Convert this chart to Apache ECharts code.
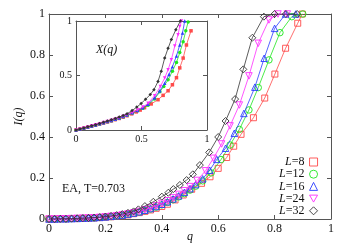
<!DOCTYPE html>
<html><head><meta charset="utf-8">
<script src="https://cdn.jsdelivr.net/npm/echarts@6/dist/echarts.min.js"></script>
<style>html,body{margin:0;padding:0;background:#fff}#c{width:353px;height:247px}</style>
</head><body><div id="c"></div>
<script>
// ---- main panel: I(q) ----
const seriesNames = ['L=8', 'L=12', 'L=16', 'L=24', 'L=32'];
const xTicks = [0, 0.2, 0.4, 0.6, 0.8, 1];
const yTicks = [0, 0.2, 0.4, 0.6, 0.8, 1];
const insetTicks = [0, 0.5, 1];

const q8 = [0,0.02,0.04,0.06,0.08,0.10,0.12,0.14,0.16,0.18,0.20,0.22,0.24,0.26,0.28,0.30,0.32,0.34,0.36,0.38,0.40,0.42,0.447,0.476,0.506,0.541,0.571,0.60,0.63,0.655,0.681,0.725,0.765,0.801,0.839,0.882,0.898];
const I8 = [0,0,0.001,0.001,0.002,0.002,0.003,0.004,0.005,0.007,0.009,0.011,0.013,0.016,0.020,0.026,0.031,0.037,0.044,0.052,0.061,0.072,0.093,0.117,0.145,0.174,0.206,0.247,0.300,0.355,0.413,0.494,0.590,0.707,0.833,0.955,1.0];

const q12 = [0,0.02,0.04,0.06,0.08,0.10,0.12,0.14,0.16,0.18,0.20,0.22,0.24,0.26,0.28,0.30,0.32,0.34,0.36,0.38,0.40,0.42,0.44,0.46,0.48,0.50,0.52,0.545,0.575,0.61,0.642,0.675,0.709,0.742,0.780,0.819,0.861,0.90];
const I12 = [0,0,0.001,0.001,0.002,0.003,0.004,0.005,0.006,0.008,0.010,0.012,0.015,0.018,0.023,0.028,0.034,0.041,0.049,0.058,0.069,0.081,0.094,0.108,0.124,0.141,0.160,0.186,0.225,0.290,0.361,0.437,0.532,0.641,0.776,0.909,0.987,1.0];

const q16 = [0,0.02,0.04,0.06,0.08,0.10,0.12,0.14,0.16,0.18,0.20,0.22,0.24,0.26,0.28,0.30,0.32,0.34,0.36,0.38,0.40,0.42,0.44,0.46,0.48,0.50,0.52,0.545,0.57,0.595,0.626,0.657,0.691,0.73,0.763,0.80,0.839,0.875];
const I16 = [0,0,0.001,0.001,0.002,0.003,0.004,0.005,0.006,0.008,0.010,0.013,0.016,0.019,0.024,0.029,0.035,0.043,0.051,0.061,0.072,0.084,0.098,0.113,0.130,0.148,0.168,0.196,0.238,0.291,0.345,0.418,0.515,0.643,0.784,0.930,1.0,1.0];

const q24 = [0,0.02,0.04,0.06,0.08,0.10,0.12,0.14,0.16,0.18,0.20,0.22,0.24,0.26,0.28,0.30,0.32,0.34,0.36,0.38,0.40,0.42,0.44,0.46,0.48,0.50,0.525,0.555,0.583,0.612,0.642,0.675,0.709,0.742,0.780,0.812,0.845];
const I24 = [0,0,0.001,0.001,0.002,0.003,0.004,0.005,0.006,0.008,0.010,0.013,0.016,0.020,0.025,0.030,0.037,0.045,0.054,0.064,0.076,0.089,0.104,0.120,0.138,0.158,0.188,0.235,0.296,0.366,0.454,0.556,0.698,0.857,0.971,1.0,1.0];

const q32 = [0,0.02,0.04,0.06,0.08,0.10,0.12,0.14,0.16,0.18,0.20,0.22,0.24,0.26,0.28,0.30,0.317,0.34,0.37,0.40,0.423,0.441,0.464,0.488,0.51,0.535,0.568,0.60,0.626,0.66,0.689,0.721,0.762,0.80,0.84,0.88];
const I32 = [0,0,0.001,0.001,0.002,0.003,0.004,0.005,0.007,0.009,0.012,0.015,0.019,0.024,0.030,0.037,0.047,0.063,0.084,0.109,0.128,0.146,0.166,0.190,0.218,0.263,0.325,0.400,0.478,0.585,0.730,0.884,0.987,1.0,1.0,1.0];

// ---- inset: X(q) ----
const xq8 = [0,0.03,0.06,0.09,0.12,0.15,0.18,0.21,0.24,0.27,0.30,0.33,0.36,0.39,0.425,0.46,0.49,0.523,0.574,0.626,0.665,0.703,0.736,0.767,0.792,0.818,0.843,0.878];
const X8 = [0,0.009,0.018,0.027,0.036,0.045,0.055,0.064,0.074,0.084,0.095,0.106,0.118,0.131,0.148,0.166,0.183,0.205,0.239,0.278,0.318,0.360,0.415,0.480,0.570,0.660,0.780,0.910];

const xq12 = [0,0.03,0.06,0.09,0.12,0.15,0.18,0.21,0.24,0.27,0.30,0.33,0.36,0.39,0.43,0.47,0.51,0.55,0.60,0.64,0.67,0.703,0.736,0.767,0.792,0.818,0.838,0.856];
const X12 = [0,0.009,0.018,0.027,0.037,0.046,0.056,0.066,0.076,0.086,0.097,0.109,0.122,0.136,0.155,0.176,0.199,0.228,0.285,0.350,0.400,0.460,0.540,0.620,0.710,0.810,0.910,0.990];

const xq16 = [0,0.03,0.06,0.09,0.12,0.15,0.18,0.21,0.24,0.27,0.30,0.33,0.36,0.39,0.43,0.47,0.51,0.55,0.60,0.64,0.677,0.71,0.736,0.767,0.792,0.813,0.83];
const X16 = [0,0.009,0.018,0.028,0.037,0.047,0.057,0.067,0.077,0.088,0.099,0.111,0.124,0.138,0.158,0.180,0.204,0.236,0.295,0.360,0.430,0.510,0.580,0.680,0.780,0.890,1.0];

const xq24 = [0,0.03,0.06,0.09,0.12,0.15,0.18,0.21,0.24,0.27,0.30,0.33,0.36,0.39,0.43,0.47,0.51,0.55,0.60,0.644,0.677,0.703,0.728,0.754,0.779,0.792,0.805];
const X24 = [0,0.009,0.019,0.028,0.038,0.048,0.058,0.068,0.079,0.090,0.101,0.113,0.126,0.141,0.161,0.184,0.210,0.245,0.315,0.400,0.477,0.553,0.645,0.770,0.875,0.950,1.0];

const xq32 = [0,0.03,0.06,0.09,0.12,0.15,0.18,0.21,0.24,0.27,0.30,0.33,0.36,0.39,0.428,0.464,0.497,0.531,0.567,0.595,0.626,0.651,0.677,0.703,0.728,0.762,0.797];
const X32 = [0,0.010,0.019,0.029,0.039,0.049,0.060,0.071,0.082,0.094,0.106,0.119,0.133,0.149,0.178,0.210,0.243,0.282,0.325,0.370,0.445,0.540,0.660,0.750,0.830,0.920,1.0];

const colors = ['#ff4a4a', '#1ee61e', '#2a3cff', '#ff2cff', '#333333'];
const downTri = 'path://M0,0L10,0L5,8.7Z';
const symbols = ['rect', 'circle', 'triangle', downTri, 'diamond'];
const sizes = [6, 6.5, 6.5, 6.5, 7];
const mainQ = [q8, q12, q16, q24, q32];
const mainI = [I8, I12, I16, I24, I32];
const insQ = [xq8, xq12, xq16, xq24, xq32];
const insX = [X8, X12, X16, X24, X32];

const zip = (a, b) => a.map((v, i) => [v, b[i]]);
const FONT = 'Liberation Serif';
const AX = '#555';

function fmtTick(v) { return String(Math.round(v * 10) / 10); }

function mkAxis(grid, pos, ticks, showLabel, fs, labelMargin, interval) {
  return {
    type: 'value', gridIndex: grid, position: pos, min: ticks[0], max: ticks[ticks.length - 1],
    interval: interval, splitLine: { show: false },
    axisLine: { show: true, onZero: false, lineStyle: { color: AX, width: 1 } },
    axisTick: { show: true, inside: true, length: 4, lineStyle: { color: AX } },
    axisLabel: { show: showLabel, fontFamily: FONT, fontSize: fs, color: '#111', margin: labelMargin, formatter: fmtTick }
  };
}

const xAxes = [
  Object.assign(mkAxis(0, 'bottom', xTicks, true, 12, 4, 0.2), {
    name: 'q', nameLocation: 'middle', nameGap: 12, nameMoveOverlap: false,
    nameTextStyle: { fontFamily: FONT, fontStyle: 'italic', fontSize: 12, color: '#111' }
  }),
  mkAxis(0, 'top', xTicks, false, 12, 4, 0.2),
  mkAxis(1, 'bottom', insetTicks, true, 10, 4, 0.5),
  mkAxis(1, 'top', insetTicks, false, 10, 4, 0.5)
];
const yAxes = [
  Object.assign(mkAxis(0, 'left', yTicks, true, 12, 4, 0.2), {
    name: 'I(q)', nameLocation: 'middle', nameGap: 24, nameRotate: 90, nameMoveOverlap: false,
    nameTextStyle: { fontFamily: FONT, fontStyle: 'italic', fontSize: 12, color: '#111' }
  }),
  mkAxis(0, 'right', yTicks, false, 12, 4, 0.2),
  mkAxis(1, 'left', insetTicks, true, 10, 4, 0.5),
  mkAxis(1, 'right', insetTicks, false, 10, 4, 0.5)
];

const series = [];
for (let k = 0; k < 5; k++) {
  series.push({
    name: seriesNames[k], type: 'line', xAxisIndex: 0, yAxisIndex: 0,
    data: zip(mainQ[k], mainI[k]), symbol: symbols[k], symbolSize: sizes[k],
    showAllSymbol: true, animation: false, z: 2 + k,
    lineStyle: { color: colors[k], width: 0.8 },
    itemStyle: { color: 'rgba(255,255,255,0)', borderColor: colors[k], borderWidth: 0.9 }
  });
}
for (let k = 0; k < 5; k++) {
  series.push({
    name: 'X' + seriesNames[k], type: 'line', xAxisIndex: 2, yAxisIndex: 2,
    data: zip(insQ[k], insX[k]), symbol: symbols[k], symbolSize: 3.5,
    showAllSymbol: true, animation: false, z: 12 + k,
    lineStyle: { color: colors[k], width: 0.8 },
    itemStyle: { color: colors[k], borderWidth: 0 }
  });
}

const chart = echarts.init(document.getElementById('c'), null, { renderer: 'canvas' });
chart.setOption({
  animation: false,
  backgroundColor: '#fff',
  grid: [
    { left: 49, right: 22, top: 14, bottom: 28, outerBoundsMode: 'none', containLabel: false },
    { left: 76, right: 146, top: 21, bottom: 117, backgroundColor: '#fff', show: true, borderWidth: 0, outerBoundsMode: 'none', containLabel: false }
  ],
  xAxis: xAxes,
  yAxis: yAxes,
  legend: {
    orient: 'vertical', right: 35, top: 156, align: 'right', itemGap: 0.2,
    itemWidth: 8, itemHeight: 8, padding: 0,
    textStyle: {
      fontFamily: FONT, fontSize: 12, color: '#111',
      rich: { i: { fontFamily: FONT, fontStyle: 'italic', fontSize: 12, color: '#111' },
              n: { fontFamily: FONT, fontSize: 12, color: '#111' } }
    },
    formatter: function (name) { return '{i|L}{n|' + name.slice(1) + '}'; },
    data: seriesNames.map((n, k) => ({
      name: n, icon: symbols[k] === downTri ? downTri : symbols[k],
      itemStyle: { color: 'rgba(255,255,255,0)', borderColor: colors[k], borderWidth: 0.9 }
    }))
  },
  graphic: [
    { type: 'text', left: 62, top: 183, style: { text: 'EA, T=0.703', font: '12px "Liberation Serif"', fill: '#111' } },
    { type: 'text', left: 96, top: 44, style: { text: 'X(q)', font: 'italic 12px "Liberation Serif"', fill: '#111' } }
  ],
  series: series
});
</script></body></html>
